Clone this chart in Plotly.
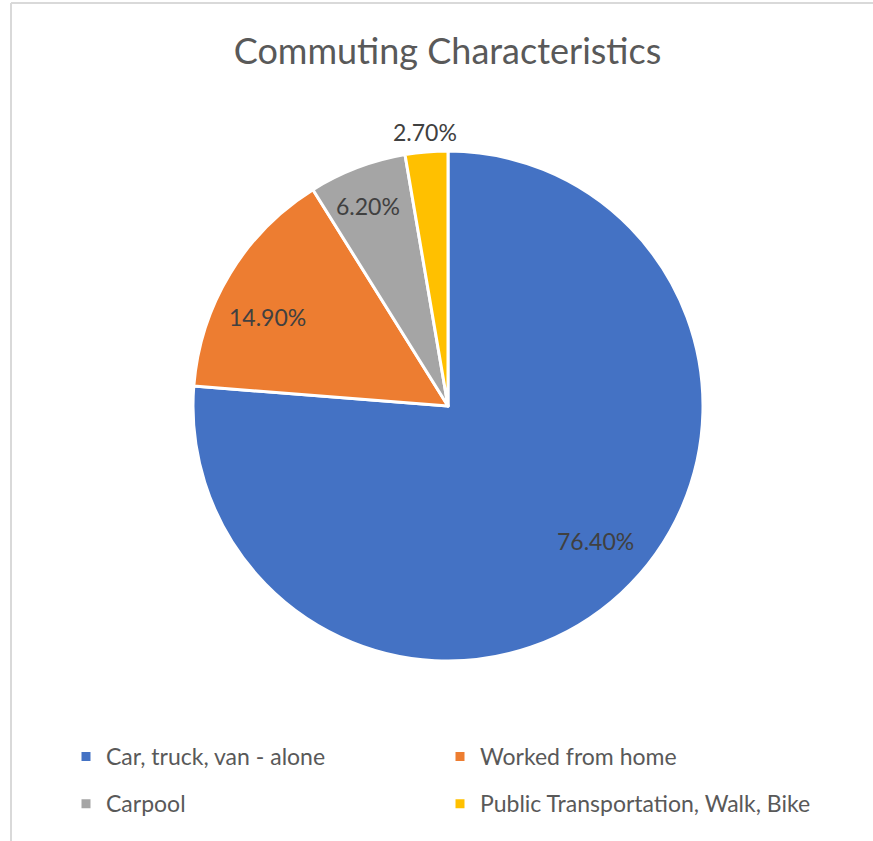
import math
import plotly.graph_objects as go

categories = ["Car, truck, van - alone", "Worked from home", "Carpool", "Public Transportation, Walk, Bike"]
values = [76.4, 14.9, 6.2, 2.7]
value_labels = ["76.40%", "14.90%", "6.20%", "2.70%"]
colors = ["#4472C4", "#ED7D31", "#A5A5A5", "#FFC000"]

# layout / style constants
W, H = 873, 841
CX, CY, R = 448, 406, 255           # pie centre and radius in pixels
LABEL_RADIUS = [0.784, 0.79, 0.847, 1.077]   # label distance (fraction of radius)
LABEL_NUDGE = [-4.8, -5.0, -1.0, 0.0]       # degrees
FONT = "Lato, 'Open Sans', sans-serif"
TEXT_DARK = "#404040"
TEXT_GREY = "#595959"

legend_names = [f"<span style='font-size:23px;baseline-shift:5px'>{c}</span>" for c in categories]

fig = go.Figure(go.Pie(
    labels=legend_names,
    values=values,
    textinfo="none",
    sort=False,
    direction="clockwise",
    rotation=0,
    marker=dict(colors=colors, line=dict(color="white", width=3)),
    domain=dict(x=[(CX - R) / W, (CX + R) / W], y=[1 - (CY + R) / H, 1 - (CY - R) / H]),
    customdata=value_labels,
    hovertemplate="%{customdata}<extra></extra>",
))

# data labels positioned along each slice bisector (computed from the values)
total = sum(values)
cum = 0.0
annotations = []
for v, lab, f, nudge in zip(values, value_labels, LABEL_RADIUS, LABEL_NUDGE):
    theta = math.radians((cum + v / 2) / total * 360 + nudge)
    cum += v
    px = CX + f * R * math.sin(theta)
    py = CY - f * R * math.cos(theta)
    annotations.append(dict(x=px / W, y=1 - py / H, xref="paper", yref="paper",
                            text=lab, showarrow=False, xanchor="center", yanchor="middle",
                            font=dict(family=FONT, size=23, color=TEXT_DARK)))

fig.update_layout(
    width=W, height=H,
    margin=dict(l=0, r=0, t=0, b=0),
    paper_bgcolor="white",
    title=dict(text="Commuting Characteristics", x=447.5 / W, xanchor="center",
               y=1 - 51 / H, yanchor="middle",
               font=dict(family=FONT, size=36, color=TEXT_GREY)),
    showlegend=True,
    legend=dict(orientation="h", x=66 / W, xanchor="left", y=1 - 728 / H, yanchor="top",
                entrywidth=329, entrywidthmode="pixels",
                font=dict(family=FONT, size=34, color=TEXT_GREY),
                traceorder="normal"),
    annotations=annotations,
    shapes=[
        dict(type="line", xref="paper", yref="paper", x0=11 / W, x1=1.0, y0=1 - 3 / H, y1=1 - 3 / H,
             line=dict(color="#D9D9D9", width=2)),
        dict(type="line", xref="paper", yref="paper", x0=11 / W, x1=11 / W, y0=1 - 3 / H, y1=0,
             line=dict(color="#D9D9D9", width=2)),
    ],
)

fig.write_html("out.html", config={"displayModeBar": False},
               post_script="document.body.style.margin='0';")
